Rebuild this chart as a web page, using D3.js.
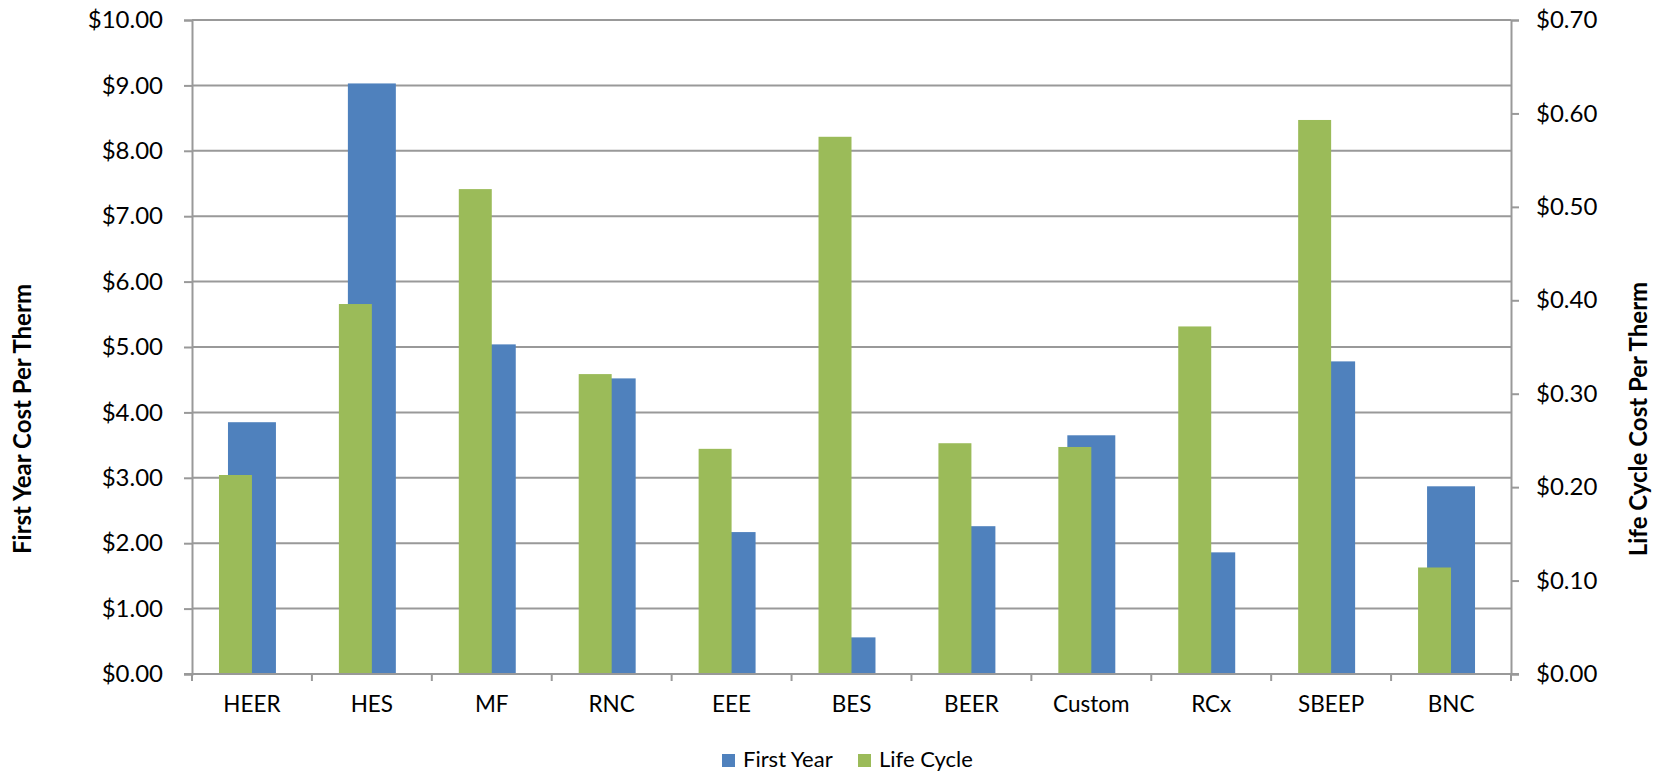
<!DOCTYPE html>
<html>
<head>
<meta charset="utf-8">
<script src="https://cdn.jsdelivr.net/npm/d3@7"></script>
<style>
  html, body { margin: 0; padding: 0; background: #ffffff; }
  svg { display: block; font-family: Lato, "Open Sans", sans-serif; }
</style>
</head>
<body>
<svg id="chart" width="1663" height="772"></svg>
<script>
// Program cost per therm, first-year (left axis) and life-cycle (right axis)
const categories = ["HEER", "HES", "MF", "RNC", "EEE", "BES", "BEER", "Custom", "RCx", "SBEEP", "BNC"];
const firstYear  = [3.85, 9.03, 5.04, 4.52, 2.17, 0.56, 2.26, 3.65, 1.86, 4.78, 2.87];
const lifeCycle  = [0.213, 0.396, 0.519, 0.321, 0.241, 0.575, 0.247, 0.243, 0.372, 0.593, 0.114];
const leftTicks  = [0, 1, 2, 3, 4, 5, 6, 7, 8, 9, 10];
const rightTicks = [0, 0.1, 0.2, 0.3, 0.4, 0.5, 0.6, 0.7];
const seriesNames = ["First Year", "Life Cycle"];
const colors = { first: "#4F81BD", life: "#9BBB59" };

const svg = d3.select("#chart");
const W = 1663, H = 772;
const margin = { top: 20, right: 152, bottom: 98, left: 192 };
const plotL = margin.left, plotR = W - margin.right;
const plotT = margin.top, plotB = H - margin.bottom;

const x = d3.scaleBand().domain(categories).range([plotL, plotR]).padding(0);
const yL = d3.scaleLinear().domain([0, 10]).range([plotB, plotT]);
const yR = d3.scaleLinear().domain([0, 0.7]).range([plotB, plotT]);
const money = d3.format("$.2f");
const gridColor = "#999999";
const tickFont = 24, catFont = 22.5, titleFont = 24, legendFont = 22;

// horizontal gridlines on the primary axis ticks
svg.append("g")
  .selectAll("line")
  .data(leftTicks)
  .join("line")
  .attr("x1", plotL).attr("x2", plotR)
  .attr("y1", d => yL(d)).attr("y2", d => yL(d))
  .attr("stroke", gridColor).attr("stroke-width", 2);

// first-year bars (primary axis), centred in each category
const bw = x.bandwidth();
svg.append("g")
  .selectAll("rect")
  .data(categories)
  .join("rect")
  .attr("x", d => x(d) + bw * 0.3)
  .attr("width", bw * 0.4)
  .attr("y", (d, i) => yL(firstYear[i]))
  .attr("height", (d, i) => yL(0) - yL(firstYear[i]))
  .attr("fill", colors.first);

// life-cycle bars (secondary axis), drawn over the first-year bars
svg.append("g")
  .selectAll("rect")
  .data(categories)
  .join("rect")
  .attr("x", d => x(d) + bw * 0.225)
  .attr("width", bw * 0.275)
  .attr("y", (d, i) => yR(lifeCycle[i]))
  .attr("height", (d, i) => yR(0) - yR(lifeCycle[i]))
  .attr("fill", colors.life);

// left axis
const gL = svg.append("g")
  .attr("transform", `translate(${plotL},0)`)
  .call(d3.axisLeft(yL).tickValues(leftTicks).tickFormat(money).tickSize(8).tickPadding(21));

// right axis
const gR = svg.append("g")
  .attr("transform", `translate(${plotR},0)`)
  .call(d3.axisRight(yR).tickValues(rightTicks).tickFormat(money).tickSize(8).tickPadding(17));

// bottom axis: labels at category centres
const gB = svg.append("g")
  .attr("transform", `translate(0,${plotB})`)
  .call(d3.axisBottom(x).tickSize(0).tickPadding(22));
gB.select(".domain").remove();

// category boundary ticks
const bounds = categories.map(c => x(c)).concat([x(categories[categories.length - 1]) + bw]);
svg.append("g")
  .selectAll("line")
  .data(bounds)
  .join("line")
  .attr("x1", d => d).attr("x2", d => d)
  .attr("y1", plotB).attr("y2", plotB + 7)
  .attr("stroke", gridColor).attr("stroke-width", 2);

// baseline
svg.append("line")
  .attr("x1", plotL - 8).attr("x2", plotR + 8)
  .attr("y1", plotB).attr("y2", plotB)
  .attr("stroke", gridColor).attr("stroke-width", 2);

[gL, gR, gB].forEach(g => {
  g.selectAll(".domain").attr("stroke", gridColor).attr("stroke-width", 2);
  g.selectAll(".tick line").attr("stroke", gridColor).attr("stroke-width", 2);
  g.selectAll("text")
    .attr("fill", "#000")
    .style("font-family", "Lato, 'Open Sans', sans-serif")
    .style("font-size", (g === gB ? catFont : tickFont) + "px");
});

// axis titles
svg.append("text")
  .attr("transform", `translate(31,419) rotate(-90)`)
  .attr("text-anchor", "middle")
  .style("font-weight", "bold").style("font-size", titleFont + "px")
  .text("First Year Cost Per Therm");

svg.append("text")
  .attr("transform", `translate(1647,419) rotate(-90)`)
  .attr("text-anchor", "middle")
  .style("font-weight", "bold").style("font-size", titleFont + "px")
  .text("Life Cycle Cost Per Therm");

// legend
const legendItems = [
  { name: seriesNames[0], color: colors.first, x: 722 },
  { name: seriesNames[1], color: colors.life, x: 858 }
];
const lg = svg.append("g");
lg.selectAll("rect")
  .data(legendItems)
  .join("rect")
  .attr("x", d => d.x).attr("y", 754)
  .attr("width", 13).attr("height", 13)
  .attr("fill", d => d.color);
lg.selectAll("text")
  .data(legendItems)
  .join("text")
  .attr("x", d => d.x + 21).attr("y", 767)
  .style("font-size", legendFont + "px")
  .text(d => d.name);
</script>
</body>
</html>
